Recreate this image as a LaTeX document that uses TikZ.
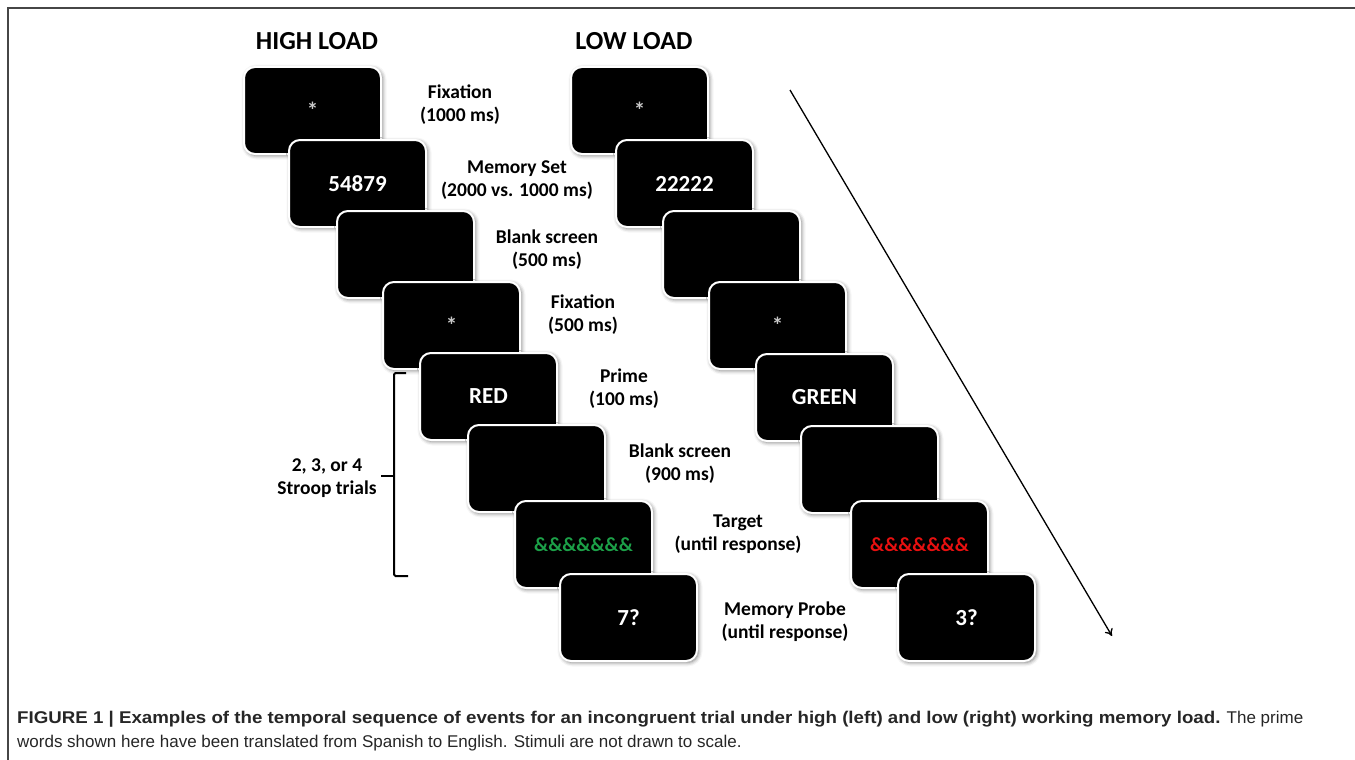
\documentclass[tikz,border=0pt]{standalone}
\usepackage{fontspec}
\setmainfont{Carlito}
\newfontfamily\capfont{Liberation Sans}[BoldFeatures={FakeStretch=1.1}]
\usetikzlibrary{shadows.blur,arrows.meta}
\definecolor{stgreen}{RGB}{28,160,72}
\definecolor{stred}{RGB}{232,16,16}
\definecolor{framegray}{RGB}{70,70,70}
\definecolor{stargray}{RGB}{200,200,200}
\begin{document}
\begin{tikzpicture}[x=1pt,y=-1pt,
  screen/.style={draw=white, line width=2pt, fill=black, rounded corners=11pt,
    minimum width=137pt, minimum height=87pt, inner sep=0pt, anchor=north west,
    blur shadow={shadow xshift=1.5pt, shadow yshift=-1.5pt, shadow blur radius=4pt, shadow opacity=55},
    text=white, font=\bfseries\fontsize{23}{23}\selectfont},
  amp/.style={font=\bfseries\fontsize{20}{20}\selectfont},
  lab/.style={align=center, font=\bfseries\fontsize{19.5}{23}\selectfont},
  ttl/.style={font=\bfseries\fontsize{26}{26}\selectfont},
  captext/.style={anchor=base west, font=\capfont\fontsize{17}{24}\selectfont, inner sep=0pt, text=black!85}]
\useasboundingbox (0,0) rectangle (1355,760);
% frame
\coordinate (fbl) at (8,760);
\coordinate (ftl) at (8,8);
\coordinate (ftr) at (1355,8);
\draw[framegray, line width=1.5pt] (fbl) -- (ftl) -- (ftr);
% titles
\node[ttl] (thigh) at (317,41) {HIGH LOAD};
\node[ttl] (tlow) at (634,41) {LOW LOAD};
% high load screens
\node[screen] (h1) at (243,66) {\raisebox{-6pt}{\textcolor{stargray}{*}}};
\node[screen] (h2) at (288,139) {54879};
\node[screen] (h3) at (336,210) {};
\node[screen] (h4) at (382,281) {\raisebox{-6pt}{\textcolor{stargray}{*}}};
\node[screen] (h5) at (419,352) {RED};
\node[screen] (h6) at (467,424) {};
\node[screen, amp] (h7) at (514,500) {\textcolor{stgreen}{\&\&\&\&\&\&\&}};
\node[screen] (h8) at (559,573) {7?};
% low load screens
\node[screen] (w1) at (570,66) {\raisebox{-6pt}{\textcolor{stargray}{*}}};
\node[screen] (w2) at (615,139) {22222};
\node[screen] (w3) at (662,210) {};
\node[screen] (w4) at (708,281) {\raisebox{-6pt}{\textcolor{stargray}{*}}};
\node[screen] (w5) at (755,353) {GREEN};
\node[screen] (w6) at (800,425) {};
\node[screen, amp] (w7) at (850,500) {\textcolor{stred}{\&\&\&\&\&\&\&}};
\node[screen] (w8) at (897,573) {3?};
% labels
\node[lab] (l1) at (460,105) {Fixation\\(1000 ms)};
\node[lab] (l2) at (517,180) {Memory Set\\(2000 vs. 1000 ms)};
\node[lab] (l3) at (547,250) {Blank screen\\(500 ms)};
\node[lab] (l4) at (583,315) {Fixation\\(500 ms)};
\node[lab] (l5) at (624,389) {Prime\\(100 ms)};
\node[lab] (l6) at (680,464) {Blank screen\\(900 ms)};
\node[lab] (l7) at (738,534) {Target\\(until response)};
\node[lab] (l8) at (785,622) {Memory Probe\\(until response)};
% brace
\coordinate (bt) at (406,373);
\coordinate (btc) at (394,373);
\coordinate (bbc) at (394,576);
\coordinate (bb) at (408,576);
\coordinate (bm) at (394,476);
\coordinate (bmt) at (381,476);
\draw[line width=2pt, rounded corners=1.5pt] (bt) -- (btc) -- (bbc) -- (bb);
\draw[line width=2pt] (bm) -- (bmt);
\node[lab] (stroop) at (327,478) {2, 3, or 4\\Stroop trials};
% time arrow
\coordinate (as) at (790,90);
\coordinate (ae) at (1112,636);
\draw[line width=1.3pt, -{To[length=7pt,width=9pt]}] (as) -- (ae);
% caption
\node[captext] (cap1) at (17,723) {\textbf{FIGURE 1 | Examples of the temporal sequence of events for an incongruent trial under high (left) and low (right) working memory load.} The prime};
\node[captext] (cap2) at (17,747) {words shown here have been translated from Spanish to English. Stimuli are not drawn to scale.};
\end{tikzpicture}
\end{document}
